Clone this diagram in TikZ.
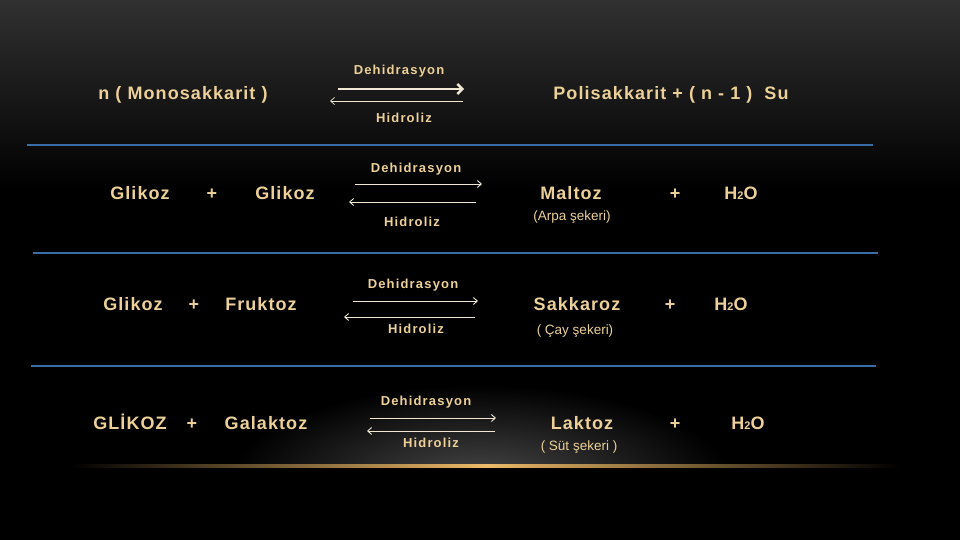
\documentclass[tikz,border=0pt]{standalone}
\usepackage{fontspec}
\setmainfont{Liberation Sans}
\newfontfamily\spacedfont[LetterSpace=6]{Liberation Sans}
\newfontfamily\spacedsmall[LetterSpace=9]{Liberation Sans}
\usetikzlibrary{arrows.meta}
\definecolor{tan}{RGB}{236,208,152}
\definecolor{arrowc}{RGB}{240,232,212}
\definecolor{blueline}{RGB}{58,108,165}
\definecolor{gold}{RGB}{236,186,104}
\tikzset{
  main/.style={font=\spacedfont\bfseries\fontsize{18}{20}\selectfont, text=tan, inner sep=0pt, anchor=base},
  lbl/.style={font=\spacedsmall\bfseries\fontsize{13}{15}\selectfont, text=tan, inner sep=0pt, anchor=base},
  note/.style={font=\fontsize{13.5}{15}\selectfont, text=tan, inner sep=0pt, anchor=base},
  rx/.style={draw=arrowc, line width=0.9pt, -{Straight Barb[length=4pt,width=7pt]}},
  rxthick/.style={draw=arrowc, line width=2.4pt, -{Straight Barb[length=5pt,width=10pt]}},
  sep/.style={draw=blueline, line width=1.1pt}
}
\newcommand{\water}{H{\fontsize{11}{11}\selectfont 2}O}
\begin{document}
\begin{tikzpicture}[x=1pt,y=-1pt]
\useasboundingbox (0,0) rectangle (960,540);
% background
\fill[black] (0,0) rectangle (960,540);
\shade[top color=black!81!white, bottom color=black] (0,0) rectangle (960,190);
\begin{scope}
\clip (0,380) rectangle (960,466);
\shade[inner color=black!72!white, outer color=black] (480,480) ellipse (250 and 95);
\end{scope}
\shade[left color=black, right color=black, middle color=gold] (70,464.6) rectangle (900,467.4);

% separators
\coordinate (s1a) at (27,145); \coordinate (s1b) at (873,145);
\coordinate (s2a) at (33,253); \coordinate (s2b) at (878,253);
\coordinate (s3a) at (31,366); \coordinate (s3b) at (876,366);
\draw[sep] (s1a) -- (s1b);
\draw[sep] (s2a) -- (s2b);
\draw[sep] (s3a) -- (s3b);

% Row 0
\node[main] (mono) at (183,99.5) {n ( Monosakkarit )};
\node[main] (poly) at (671,99.5) {Polisakkarit + ( n - 1 )\ \ Su};
\node[lbl] (d0) at (399,75) {Dehidrasyon};
\node[lbl] (h0) at (404,123) {Hidroliz};
\coordinate (f0a) at (338,89); \coordinate (f0b) at (464,89);
\coordinate (b0a) at (463,101); \coordinate (b0b) at (330,101);
\draw[rxthick] (f0a) -- (f0b);
\draw[rx, line width=0.7pt] (b0a) -- (b0b);

% Row 1
\node[main] (g1a) at (140,199.5) {Glikoz};
\node[main] (p1a) at (212,199.5) {+};
\node[main] (g1b) at (285,199.5) {Glikoz};
\node[main] (malt) at (571,199.5) {Maltoz};
\node[main] (p1b) at (675,199.5) {+};
\node[main] (w1) at (741,199.5) {\water};
\node[note] (arpa) at (572,220.5) {(Arpa şekeri)};
\node[lbl] (d1) at (416,172) {Dehidrasyon};
\node[lbl] (h1) at (412,226) {Hidroliz};
\coordinate (f1a) at (355,184); \coordinate (f1b) at (482,184);
\coordinate (b1a) at (476,202); \coordinate (b1b) at (349,202);
\draw[rx] (f1a) -- (f1b);
\draw[rx] (b1a) -- (b1b);

% Row 2
\node[main] (g2) at (133,310.5) {Glikoz};
\node[main] (p2a) at (194,310.5) {+};
\node[main] (fru) at (261,310.5) {Fruktoz};
\node[main] (sak) at (577,310.5) {Sakkaroz};
\node[main] (p2b) at (670,310.5) {+};
\node[main] (w2) at (731,310.5) {\water};
\node[note] (cay) at (575,334.5) {( Çay şekeri)};
\node[lbl] (d2) at (413,288) {Dehidrasyon};
\node[lbl] (h2) at (416,333) {Hidroliz};
\coordinate (f2a) at (353,301); \coordinate (f2b) at (478,301);
\coordinate (b2a) at (475,317); \coordinate (b2b) at (344,317);
\draw[rx] (f2a) -- (f2b);
\draw[rx] (b2a) -- (b2b);

% Row 3
\node[main] (g3) at (130,429.5) {GLİKOZ};
\node[main] (p3a) at (192,429.5) {+};
\node[main] (gal) at (266,429.5) {Galaktoz};
\node[main] (lak) at (582,429.5) {Laktoz};
\node[main] (p3b) at (675,429.5) {+};
\node[main] (w3) at (748,429.5) {\water};
\node[note] (sut) at (579,450.5) {( Süt şekeri )};
\node[lbl] (d3) at (426,405) {Dehidrasyon};
\node[lbl] (h3) at (431,447) {Hidroliz};
\coordinate (f3a) at (370,418); \coordinate (f3b) at (496,418);
\coordinate (b3a) at (495,431); \coordinate (b3b) at (367,431);
\draw[rx] (f3a) -- (f3b);
\draw[rx] (b3a) -- (b3b);
\end{tikzpicture}
\end{document}
